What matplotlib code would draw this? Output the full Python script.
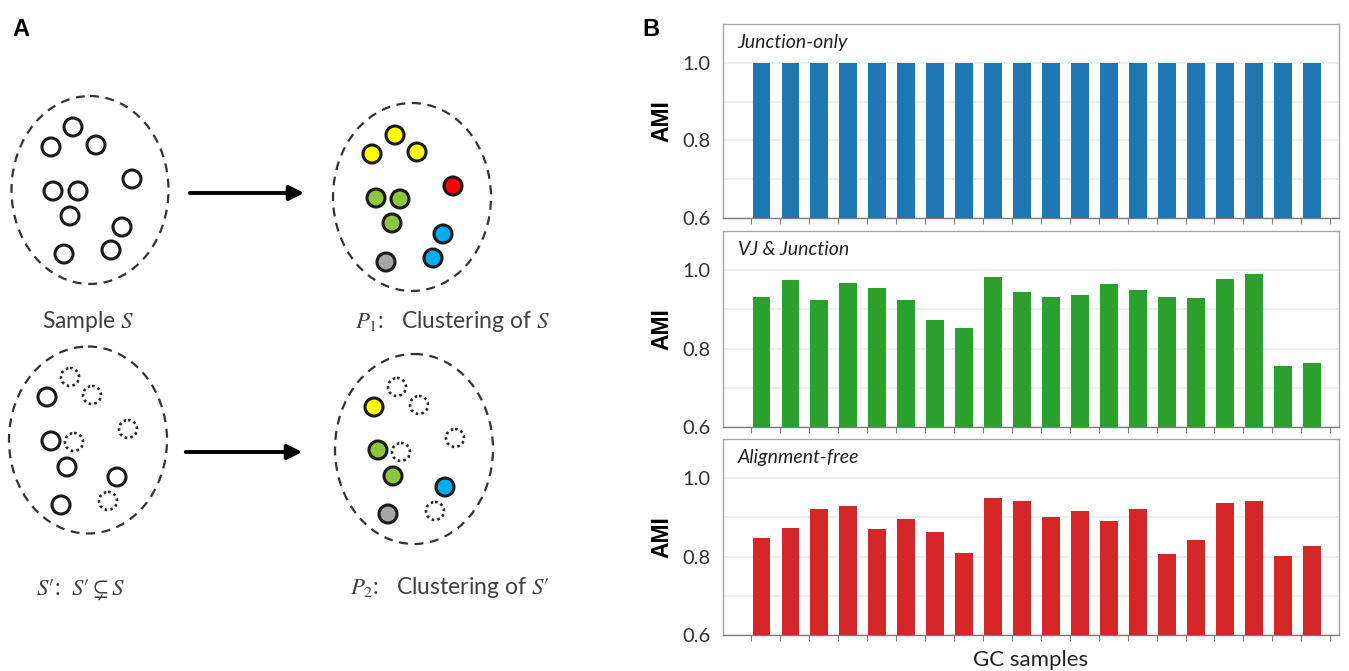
import numpy as np
import matplotlib
matplotlib.use('Agg')
import matplotlib.pyplot as plt
from matplotlib.patches import Circle, Ellipse

plt.rcParams['font.family'] = ['Lato', 'DejaVu Sans']
plt.rcParams['mathtext.fontset'] = 'stix'

# ---- panel B data: AMI per GC sample ----
samples = np.arange(20)
ami_junction = [1.0] * 20
ami_vj = [0.932, 0.975, 0.923, 0.967, 0.954, 0.923, 0.874, 0.853, 0.983, 0.944,
          0.932, 0.936, 0.965, 0.950, 0.931, 0.929, 0.977, 0.990, 0.756, 0.762]
ami_free = [0.847, 0.872, 0.921, 0.929, 0.870, 0.896, 0.862, 0.810, 0.950, 0.941,
            0.901, 0.916, 0.891, 0.921, 0.806, 0.843, 0.937, 0.943, 0.802, 0.826]
method_names = ['Junction-only', 'VJ & Junction', 'Alignment-free']
method_colors = ['#1f77b4', '#2ca02c', '#d62728']

# ---- panel A data: sketch of sample / clustering (pixel coords) ----
# kind: None = plain outline, 'dot' = removed element, otherwise fill colour
sample_s = [(73, 127, None), (51, 147, None), (96, 145, None), (132, 179, None),
            (53, 191, None), (78, 191, None), (70, 216, None), (122, 227, None),
            (111, 250, None), (64, 254, None)]
clust_s = [(395, 135, '#ffff00'), (372, 154, '#ffff00'), (417, 152, '#ffff00'),
           (453, 186, '#ff0000'), (376, 198, '#8cc63f'), (400, 199, '#8cc63f'),
           (392, 223, '#8cc63f'), (443, 234, '#00aeef'), (433, 258, '#00aeef'),
           (386, 262, '#a6a6a6')]
sample_sub = [(70, 377, 'dot'), (92, 395, 'dot'), (47, 397, None), (128, 429, 'dot'),
              (51, 441, None), (74, 442, 'dot'), (67, 467, None), (117, 477, None),
              (61, 505, None), (108, 501, 'dot')]
clust_sub = [(397, 387, 'dot'), (374, 407, '#ffff00'), (419, 405, 'dot'),
             (455, 438, 'dot'), (378, 450, '#8cc63f'), (401, 452, 'dot'),
             (393, 476, '#8cc63f'), (445, 487, '#00aeef'), (435, 511, 'dot'),
             (388, 514, '#a6a6a6')]

fig = plt.figure(figsize=(13.49, 6.71), dpi=100)

# ---------------- panel A ----------------
axA = fig.add_axes([0, 0, 640 / 1349, 1])
axA.set_xlim(0, 640)
axA.set_ylim(671, 0)
axA.axis('off')

ellipses = [((90, 190), 157, 188), ((412, 197), 158, 188),
            ((88, 440), 158, 187), ((414, 449), 158, 190)]
for c, w, h in ellipses:
    axA.add_patch(Ellipse(c, w, h, fill=False, ec='#333333', lw=1.6, ls=(0, (4, 3))))

for group in [sample_s, clust_s, sample_sub, clust_sub]:
    for x, y, kind in group:
        if kind is None:
            axA.add_patch(Circle((x, y), 9, fc='white', ec='#1a1a1a', lw=2.2))
        elif kind == 'dot':
            axA.add_patch(Circle((x, y), 9, fc='white', ec='#2a2a2a', lw=1.9, ls=(0, (1, 1.2))))
        else:
            axA.add_patch(Circle((x, y), 9, fc=kind, ec='#1a1a1a', lw=2.2))

for x0, x1, y in [(187, 307, 193), (183, 305, 452)]:
    axA.annotate('', xy=(x1, y), xytext=(x0, y),
                 arrowprops=dict(arrowstyle='-|>', lw=2.8, color='black', mutation_scale=22))

cap_kw = dict(fontsize=16.5, color='#404040', va='center', ha='left')
axA.text(42, 321, r'Sample $S$', **cap_kw)
axA.text(355, 322, r'$P_1$:   Clustering of $S$', **cap_kw)
axA.text(36, 590, r"$S\prime$:  $S\prime\subsetneq S$", **cap_kw)
axA.text(350, 588, r"$P_2$:   Clustering of $S\prime$", **cap_kw)

fig.text(12 / 1349, 1 - 30 / 671, 'A', fontsize=17, fontweight='bold', family='Liberation Sans', va='center')
fig.text(642 / 1349, 1 - 30 / 671, 'B', fontsize=17, fontweight='bold', family='Liberation Sans', va='center')

# ---------------- panel B ----------------
bottoms = [1 - 218 / 671, 1 - 427 / 671, 1 - 635 / 671]
heights = [194 / 671, 196 / 671, 196 / 671]
series = [ami_junction, ami_vj, ami_free]

for i in range(3):
    ax = fig.add_axes([723 / 1349, bottoms[i], 616 / 1349, heights[i]])
    ax.bar(samples, np.array(series[i]) - 0.6, bottom=0.6, width=0.62,
           color=method_colors[i], zorder=3)
    ax.set_xlim(-1.33, 19.94)
    ax.set_ylim(0.6, 1.1)
    ax.set_yticks([0.6, 0.8, 1.0])
    ax.set_yticklabels(['0.6', '0.8', '1.0'], fontsize=14.5, color='#333333')
    ax.set_yticks([0.7, 0.9, 1.1], minor=True)
    ax.grid(axis='y', which='both', color='#ececec', lw=1.2, zorder=0)
    ax.set_xticks(np.arange(21) - 0.36)
    ax.set_xticklabels([])
    ax.tick_params(axis='x', direction='out', length=4, color='#808080')
    ax.tick_params(axis='y', which='both', length=0, pad=9)
    for s in ax.spines.values():
        s.set_color('#a6a6a6')
        s.set_linewidth(1)
    ax.spines['bottom'].set_color('#7f7f7f')
    ax.set_ylabel('AMI', fontsize=16.5, fontweight='bold', family='Liberation Sans', labelpad=6)
    ax.text(0.024, 0.95, method_names[i], transform=ax.transAxes, fontsize=14,
            style='italic', va='top', ha='left', color='#222222')
    if i == 2:
        ax.set_xlabel('GC samples', fontsize=16, color='#222222', labelpad=3)

fig.savefig('out.png', dpi=100)
